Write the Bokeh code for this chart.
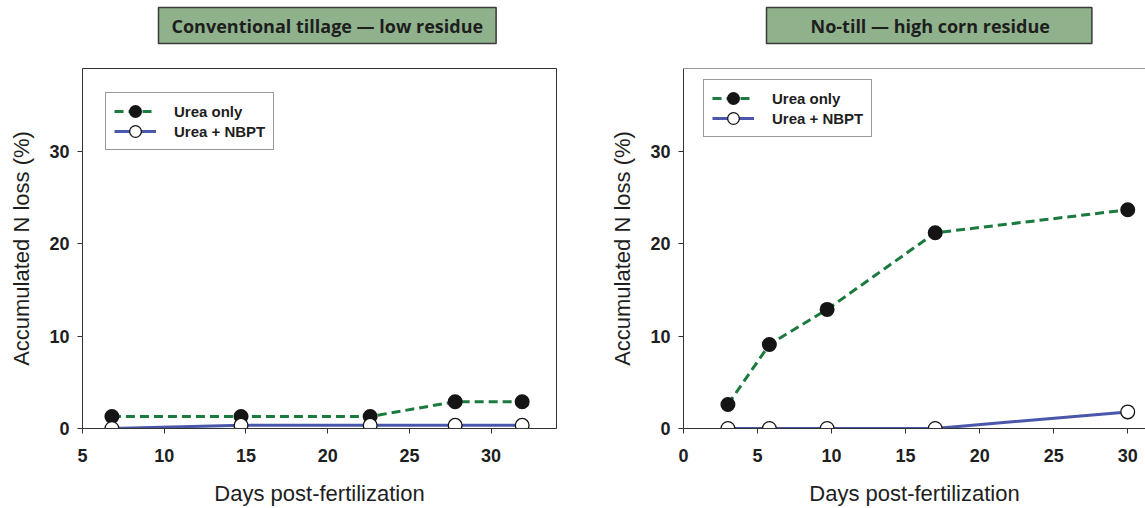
from bokeh.plotting import figure
from bokeh.models import Range1d, FixedTicker, Legend, LegendItem, Span, Title
from bokeh.layouts import row
from bokeh.embed import file_html
from bokeh.resources import INLINE

# ---- data ----
left_title = "Conventional tillage \u2014 low residue"
left_days = [6.8, 14.7, 22.6, 27.8, 31.9]
left_urea = [1.3, 1.3, 1.3, 2.9, 2.9]
left_nbpt = [0.0, 0.35, 0.35, 0.35, 0.35]
left_xticks = [5, 10, 15, 20, 25, 30]

right_title = "No-till \u2014 high corn residue"
right_days = [3.0, 5.8, 9.7, 17.0, 30.0]
right_urea = [2.6, 9.1, 12.9, 21.2, 23.7]
right_nbpt = [0.0, 0.0, 0.0, 0.0, 1.8]
right_xticks = [0, 5, 10, 15, 20, 25, 30]

y_ticks = [0, 10, 20, 30]
series_names = ["Urea only", "Urea + NBPT"]
x_label = "Days post-fertilization"
y_label = "Accumulated N loss (%)"

GREEN = "#1b7a3e"
BLUE = "#4a57aa"
AX = "#333333"
TXT = "#1e1e1e"
DOT = "#151515"


def make_panel(title, days, urea, nbpt, xr, xticks, width, mbl, mbr,
               legend_loc, title_offset, title_hpad, outline):
    p = figure(width=width, height=508, x_range=Range1d(*xr), y_range=Range1d(0, 39),
               output_backend="svg", toolbar_location=None,
               min_border_left=mbl, min_border_right=mbr,
               min_border_top=0, min_border_bottom=0,
               background_fill_color="white", border_fill_color="white")
    p.grid.visible = False
    p.outline_line_color = AX if outline else None
    p.outline_line_width = 1

    # spacer between title box and frame
    p.add_layout(Title(text=" ", text_font_size="2px", standoff=16), "above")

    t = p.title
    t.text = title
    t.align = "left"
    t.offset = title_offset
    t.text_font = "Open Sans"
    t.text_font_style = "bold"
    t.text_font_size = "18px"
    t.text_color = TXT
    t.background_fill_color = "#8fb28c"
    t.border_line_color = "#3a3a3a"
    t.border_line_width = 1.5
    t.padding = dict(left=title_hpad[0], right=title_hpad[1], top=6, bottom=6)
    t.standoff = 10

    for ax in (p.xaxis[0], p.yaxis[0]):
        ax.axis_line_color = AX
        ax.major_tick_line_color = AX
        ax.major_tick_out = 5
        ax.major_tick_in = 0
        ax.minor_tick_line_color = None
        ax.major_label_text_font = "Liberation Sans"
        ax.major_label_text_font_style = "bold"
        ax.major_label_text_font_size = "18px"
        ax.major_label_text_color = TXT
        ax.axis_label_text_font = "Liberation Sans"
        ax.axis_label_text_font_style = "normal"
        ax.axis_label_text_font_size = "22px"
        ax.axis_label_text_color = TXT
    p.xaxis.ticker = FixedTicker(ticks=xticks)
    p.yaxis.ticker = FixedTicker(ticks=y_ticks)
    p.xaxis.axis_label = x_label
    p.yaxis.axis_label = y_label
    p.xaxis.major_label_standoff = 15
    p.xaxis.axis_label_standoff = 16
    p.yaxis.major_label_standoff = 8
    p.yaxis.axis_label_standoff = 12

    if not outline:
        p.add_layout(Span(location=39, dimension="width", line_color=AX, line_width=1))

    # marker drawn as base size + thick outline so legend samples stay large
    l1 = p.line(days, urea, line_color=GREEN, line_width=3, line_dash="9 5")
    s1 = p.scatter(days, urea, size=10, fill_color=DOT, line_color=DOT, line_width=5)
    l2 = p.line(days, nbpt, line_color=BLUE, line_width=3)
    s2o = p.scatter(days, nbpt, size=10, fill_color=DOT, line_color=DOT, line_width=5)
    s2i = p.scatter(days, nbpt, size=10, fill_color="white", line_color="white", line_width=2.4)

    leg = Legend(items=[LegendItem(label=series_names[0], renderers=[l1, s1]),
                        LegendItem(label=series_names[1], renderers=[l2, s2o, s2i])],
                 location=legend_loc, margin=0, padding=8, spacing=0,
                 glyph_width=42, glyph_height=20, label_standoff=18,
                 label_text_font="Liberation Sans", label_text_font_style="bold",
                 label_text_font_size="15px", label_text_color=TXT,
                 border_line_color=AX, border_line_width=1,
                 background_fill_color="white", background_fill_alpha=1)
    p.add_layout(leg, "center")
    return p


p1 = make_panel(left_title, left_days, left_urea, left_nbpt, (5, 34), left_xticks,
                578, 82, 22, (23, 278), 76, (13, 13), True)
p2 = make_panel(right_title, right_days, right_urea, right_nbpt, (0, 31.2), right_xticks,
                567, 105, 0, (20, 291), 83, (44, 42), False)

layout = row(p1, p2)
open("out.html", "w").write(file_html(layout, INLINE))
